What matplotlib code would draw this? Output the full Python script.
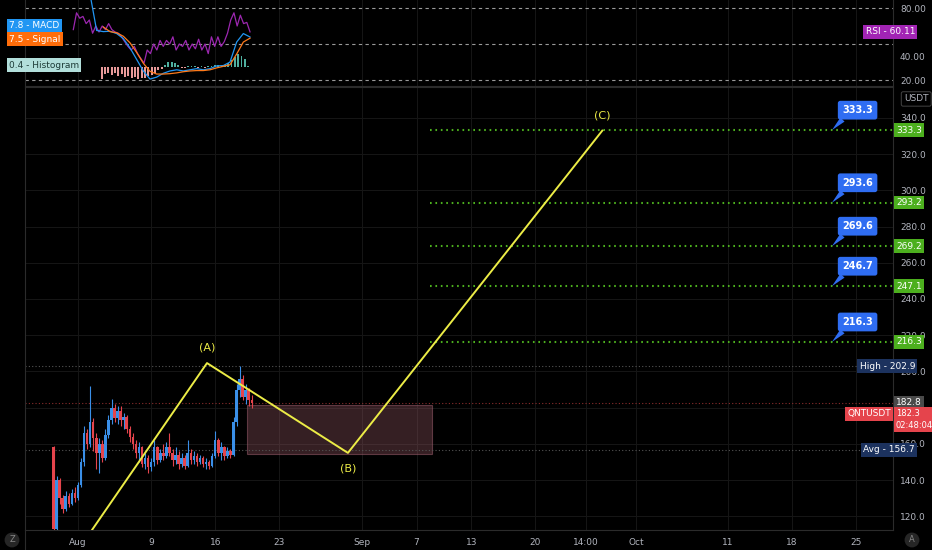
import numpy as np
import matplotlib.pyplot as plt
from matplotlib.patches import Rectangle

plt.rcParams['font.family'] = ['Liberation Sans Narrow', 'DejaVu Sans']

# candles, one every 8 hours; x is days counted from Aug 1
candle_start = -2.67
candle_step = 1 / 3
first_open = 158.0
closes = [113, 140, 130, 124, 131, 127, 133, 130, 137, 150, 166, 160, 172, 163, 155, 160,
          152, 165, 173, 180, 174, 178, 173, 175, 168, 164, 160, 155, 158, 149, 152, 147,
          150, 158, 151, 155, 153, 158, 155, 151, 154, 149, 152, 148, 155, 151, 153, 150,
          152, 149, 150, 148, 153, 162, 155, 158, 153, 156, 154, 172, 190, 196, 186, 190,
          184, 182.3]
highs = [159, 142, 141, 132, 134, 133, 135, 136, 139, 152, 170, 168, 192, 174, 166, 163,
         162, 168, 176, 185, 182, 181, 181, 177, 176, 170, 166, 162, 161, 159, 155, 154,
         152, 162, 159, 157, 160, 161, 166, 157, 158, 156, 155, 154, 162, 157, 156, 155,
         154, 153, 152, 151, 155, 167, 163, 161, 159, 158, 157, 175, 193, 203, 198, 193,
         191, 187]
lows = [108, 111, 127, 122, 123, 125, 126, 128, 129, 136, 148, 157, 158, 156, 146, 144,
        150, 151, 163, 171, 172, 171, 170, 168, 166, 161, 157, 152, 150, 147, 146, 144,
        145, 148, 149, 150, 151, 152, 153, 148, 149, 146, 147, 146, 147, 149, 149, 148,
        149, 147, 146, 146, 147, 152, 153, 151, 151, 152, 152, 153, 170, 186, 184, 182,
        181, 180]

# indicator pane (RSI on its own scale, MACD on another)
rsi = [62, 76, 71.5, 73, 67, 70, 59, 65, 60, 65, 62, 67, 62, 60, 59, 56, 52, 48, 45, 48,
       42, 38, 34, 45, 42, 50, 45, 53, 48, 53, 50, 56, 45, 50, 48, 53, 45, 50, 46, 54,
       45, 50, 42, 56, 48, 56, 48, 52, 59, 70, 76, 65, 74, 67, 68, 60.11]
macd = [19, 9.5, 9.2, 9.3, 8.7, 7.4, 5.0, 2.0, -1.0, -3.1, -2.6, -1.6, -1.0, -0.7, -1.0,
        -0.7, -0.4, -0.7, -0.4, 0.3, 0.4, 1.3, 6.5, 8.7, 7.8]
signal = [10.4, 9.2, 8.9, 8.0, 6.3, 3.8, 1.0, -1.1, -1.8, -1.8, -1.7, -1.5, -1.2, -1.0,
          -0.9, -0.9, -0.7, -0.2, 0.2, 0.6, 3.4, 6.5, 7.5]
hist = [-3.0, -1.8, -1.5, -2.0, -1.6, -2.2, -1.8, -2.6, -2.4, -2.9, -2.5, -3.0, -2.7, -2.9,
        -2.4, -2.0, -1.4, -0.8, -0.4, 0.5, 1.2, 1.3, 1.0, 0.6, -0.3, -0.2, 0.3, 0.4, 0.2,
        -0.2, 0.2, -0.2, 0.3, 0.4, 0.6, 0.5, 0.4, 0.6, 1.0, 1.8, 2.6, 3.4, 3.0, 2.0, 0.4]

# wave drawing: start, (A), (B), (C)
wave_days = [1.53, 14.1, 29.5, 57.3]
wave_prices = [112.4, 204.6, 155.0, 333.0]
wave_labels = ['(A)', '(B)', '(C)']

targets = [333.3, 293.2, 269.2, 247.1, 216.3]
target_notes = ['333.3', '293.6', '269.6', '246.7', '216.3']

high_price = 202.9
avg_price = 156.7
prev_close = 182.8
last_price = 182.3

# price ticks that are not covered by a tag
price_ticks = [120, 140, 160, 200, 220, 240, 260, 280, 300, 320, 340]
rsi_ticks = [20, 40, 80]

tick_days = [0, 8, 15, 22, 31, 37, 43, 50, 55.5, 61, 71, 78, 85]
tick_names = ['Aug', '9', '16', '23', 'Sep', '7', '13', '20', '14:00', 'Oct', '11', '18', '25']

BG = '#000000'
GRID = '#161616'
EDGE = '#2b2b2b'
TXT = '#b2b5be'
UP = '#3a8fe8'
DOWN = '#e5444c'
GREEN = '#4caf1e'
CALL = '#2f6df2'
YEL = '#ecec46'

W, H = 932, 550
fig = plt.figure(figsize=(W / 100, H / 100), dpi=100, facecolor=BG)


def fx(px):
    return px / W


def fy(py):
    return 1 - py / H


def axx(px):
    # pixel column -> axes fraction of the price panes
    return (px - 25) / 868


ax = fig.add_axes([fx(25), fy(530), fx(893) - fx(25), fy(87) - fy(530)])
top = fig.add_axes([fx(25), fy(86), fx(893) - fx(25), fy(0) - fy(86)], sharex=ax)
mac = top.twinx()
for a in (ax, top):
    a.set_facecolor(BG)
    for s in a.spines.values():
        s.set_color(EDGE)
        s.set_linewidth(0.8)
top.spines['top'].set_visible(False)
for s in mac.spines.values():
    s.set_visible(False)

ax.set_xlim(-5.79, 89.07)
ax.set_ylim(112.4, 357.1)
top.set_ylim(15, 86.67)
mac.set_ylim(-4.9, 17.4)
mac.set_yticks([])

# grid + ticks
ax.set_yticks(price_ticks)
ax.yaxis.set_major_formatter('{x:.1f}')
ax.yaxis.tick_right()
ax.set_xticks(tick_days, tick_names)
ax.tick_params(axis='both', length=0, labelsize=6.5, labelcolor=TXT)
ax.tick_params(axis='y', pad=5)
ax.tick_params(axis='x', pad=6)
ax.grid(True, color=GRID, lw=0.7)
for lvl in (180,):
    ax.axhline(lvl, color=GRID, lw=0.7, zorder=0)
ax.set_axisbelow(True)

top.set_yticks(rsi_ticks)
top.yaxis.set_major_formatter('{x:.2f}')
top.yaxis.tick_right()
top.tick_params(axis='y', left=False, right=False, labelleft=False, labelright=True,
                length=0, labelsize=6.5, labelcolor=TXT, pad=5)
top.tick_params(axis='x', length=0, labelbottom=False)
top.grid(True, axis='x', color=GRID, lw=0.7)
for lvl in (80, 50, 20):
    top.axhline(lvl, color='#9a9a9a', lw=0.8, ls=(0, (3, 3)))

# candles
c = np.array(closes, dtype=float)
o = np.array([first_open] + closes[:-1], dtype=float)
days = candle_start + candle_step * np.arange(len(c))
cols = np.where(c >= o, UP, DOWN)
ax.vlines(days, lows, highs, colors=cols, lw=0.8, zorder=3)
ax.bar(days, np.maximum(np.abs(c - o), 0.6), bottom=np.minimum(c, o), width=0.28,
       color=cols, zorder=3)

# reference lines
ax.axhline(high_price, color='#555555', lw=0.8, ls=(0, (1, 2)), zorder=2)
ax.axhline(prev_close, color='#8a2c2c', lw=0.8, ls=(0, (1, 2)), zorder=2)
ax.axhline(avg_price, color='#555555', lw=0.8, ls=(0, (1, 2)), zorder=2)

# zone box
ax.add_patch(Rectangle((18.5, 154.4), 20.2, 27.0, fc=(0.55, 0.32, 0.37, 0.38),
                       ec=(0.6, 0.36, 0.42, 0.55), lw=0.8, zorder=1))

# wave
ax.plot(wave_days, wave_prices, color=YEL, lw=1.4, zorder=4)
offs = [11, -11, 11]
for lab, d, p, off in zip(wave_labels, wave_days[1:], wave_prices[1:], offs):
    ax.annotate(lab, (d, p), xytext=(0, off), textcoords='offset points', ha='center',
                va='center', color=YEL, fontsize=8, zorder=5)

# targets
ax.hlines(targets, 38.5, 89.07, colors=GREEN, lw=1.5, linestyles=(0, (0.8, 1.8)), zorder=2)
for t, note in zip(targets, target_notes):
    ax.annotate(note, xy=(82.4, t), xytext=(85.2, t + 11), ha='center', va='center',
                color='white', fontsize=7, fontweight='bold', zorder=6,
                bbox=dict(boxstyle='round,pad=0.45,rounding_size=0.25', fc=CALL, ec='none'),
                arrowprops=dict(arrowstyle='wedge,tail_width=0.6,shrink_factor=0.5', fc=CALL,
                                ec='none', relpos=(0.15, 0.0), shrinkA=0, shrinkB=0))
    ax.text(axx(896), t, f'{t:.1f}', transform=ax.get_yaxis_transform(), ha='left',
            va='center', color='white', fontsize=6.5, zorder=6,
            bbox=dict(boxstyle='square,pad=0.25', fc=GREEN, ec='none'))

yt = ax.get_yaxis_transform()
ax.text(axx(915), high_price, 'High - 202.9', transform=yt, ha='right', va='center',
        color='white', fontsize=6.5, zorder=6,
        bbox=dict(boxstyle='square,pad=0.25', fc='#1c325e', ec='none'))
ax.text(axx(896), prev_close, '182.8', transform=yt, ha='left', va='center',
        color='white', fontsize=6.5, zorder=6,
        bbox=dict(boxstyle='square,pad=0.25', fc='#4a4a4a', ec='none'))
ax.text(axx(891), 176.6, 'QNTUSDT', transform=yt, ha='right', va='center',
        color='white', fontsize=6.5, zorder=6,
        bbox=dict(boxstyle='square,pad=0.25', fc=DOWN, ec='none'))
ax.text(axx(896), 179.0, f'{last_price:.1f}\n02:48:04', transform=yt, ha='left', va='top',
        color='white', fontsize=6, linespacing=1.3, zorder=6,
        bbox=dict(boxstyle='square,pad=0.25', fc=DOWN, ec='none'))
ax.text(axx(915), avg_price, 'Avg - 156.7', transform=yt, ha='right', va='center',
        color='white', fontsize=6.5, zorder=6,
        bbox=dict(boxstyle='square,pad=0.25', fc='#1c325e', ec='none'))
ax.text(axx(904), 350.5, 'USDT', transform=yt, ha='left', va='center', color=TXT,
        fontsize=6.5, zorder=6,
        bbox=dict(boxstyle='round,pad=0.3,rounding_size=0.2', fc=BG, ec='#444444', lw=0.7))

# indicator pane
rsi_x = np.linspace(-0.51, 18.8, len(rsi))
top.plot(rsi_x, rsi, color='#9c27b0', lw=0.9, zorder=3)
top.text(axx(915), rsi[-1], f'RSI - {rsi[-1]:.2f}', transform=top.get_yaxis_transform(),
         ha='right', va='center', color='white', fontsize=6.5, zorder=6,
         bbox=dict(boxstyle='square,pad=0.25', fc='#a224b4', ec='none'))

hist_x = np.linspace(2.59, 18.6, len(hist))
h = np.array(hist)
mac.bar(hist_x, h, width=0.2, color=np.where(h >= 0, '#4fb0a0', '#e89a9a'), zorder=2)
mac.plot(np.linspace(1.31, 18.8, len(macd)), macd, color='#2196f3', lw=0.9, zorder=3)
mac.plot(np.linspace(2.77, 18.8, len(signal)), signal, color='#ff7a1a', lw=0.9, zorder=3)

# legend badges, top-left
fig.text(fx(9), fy(26), '7.8 - MACD', ha='left', va='center', color='white', fontsize=6.5,
         bbox=dict(boxstyle='square,pad=0.25', fc='#2196f3', ec='none'))
fig.text(fx(9), fy(39), '7.5 - Signal', ha='left', va='center', color='white', fontsize=6.5,
         bbox=dict(boxstyle='square,pad=0.25', fc='#ff6d0a', ec='none'))
fig.text(fx(9), fy(65), '0.4 - Histogram', ha='left', va='center', color='#1d3b37',
         fontsize=6.5, bbox=dict(boxstyle='square,pad=0.25', fc='#b2dfdb', ec='none'))

# corner buttons
fig.text(fx(12), fy(540), 'Z', ha='center', va='center', color='#888888', fontsize=6,
         bbox=dict(boxstyle='circle,pad=0.35', fc='#262626', ec='none'))
fig.text(fx(912), fy(540), 'A', ha='center', va='center', color='#888888', fontsize=6,
         bbox=dict(boxstyle='circle,pad=0.35', fc='#262626', ec='none'))
fig.add_artist(plt.Line2D([fx(25), fx(25)], [fy(550), fy(530)], color=EDGE, lw=0.8))

fig.savefig('out.png', dpi=100, facecolor=BG)
